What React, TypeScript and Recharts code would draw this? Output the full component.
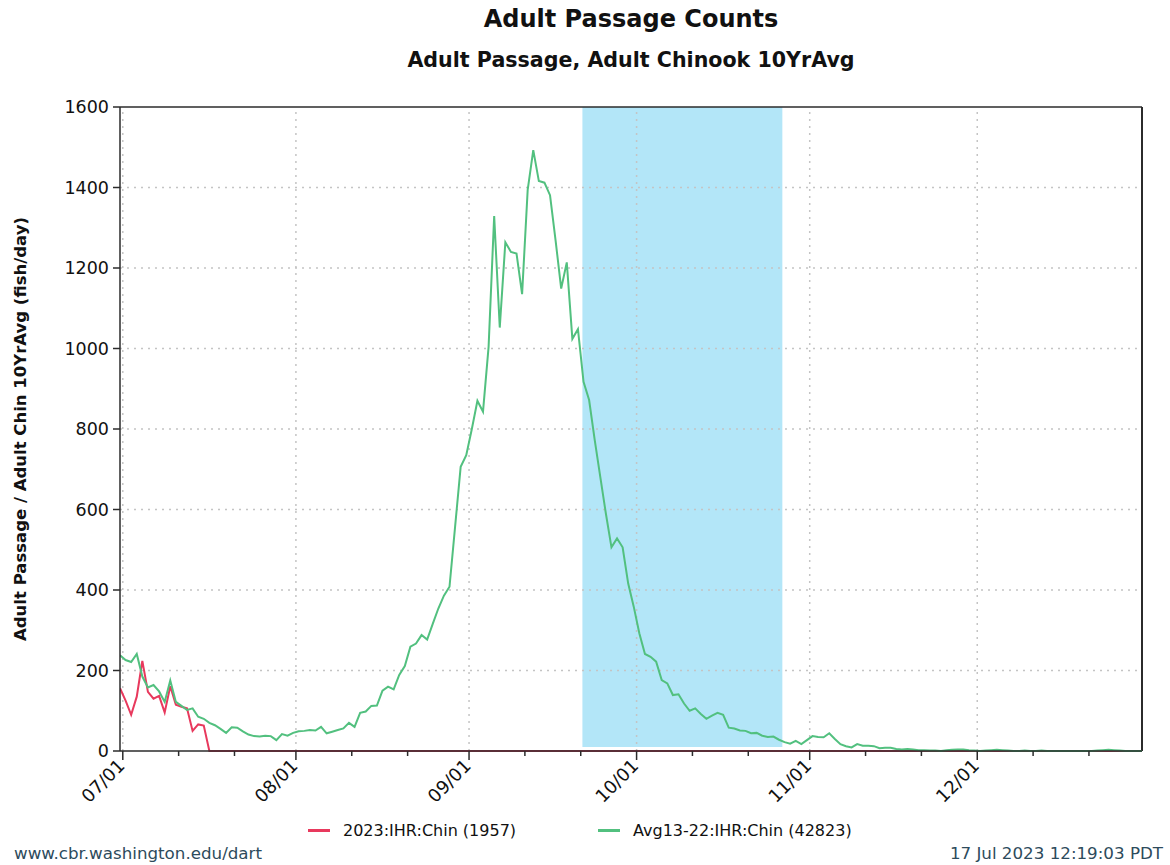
import { LineChart, Line, XAxis, YAxis, ReferenceArea, ReferenceLine } from 'recharts';

// daily values, index 0 = 07/01 ... 183 = 12/31
const CURRENT_2023 = [
  156, 125, 90, 135, 224, 147, 130, 137, 96, 161, 115, 110, 106, 50, 66, 63, 0, 0, 0, 0,
  0, 0, 0, 0, 0, 0, 0, 0, 0, 0, 0, 0, 0, 0, 0, 0, 0, 0, 0, 0,
  0, 0, 0, 0, 0, 0, 0, 0, 0, 0, 0, 0, 0, 0, 0, 0, 0, 0, 0, 0,
  0, 0, 0, 0, 0, 0, 0, 0, 0, 0, 0, 0, 0, 0, 0, 0, 0, 0, 0, 0,
  0, 0, 0, 0, 0, 0, 0, 0, 0, 0, 0, 0, 0, 0, 0, 0, 0, 0, 0, 0,
  0, 0, 0, 0, 0, 0, 0, 0, 0, 0, 0, 0, 0, 0, 0, 0, 0, 0, 0, 0,
  0, 0, 0, 0, 0, 0, 0, 0, 0, 0, 0, 0, 0, 0, 0, 0, 0, 0, 0, 0,
  0, 0, 0, 0, 0, 0, 0, 0, 0, 0, 0, 0, 0, 0, 0, 0, 0, 0, 0, 0,
  0, 0, 0, 0, 0, 0, 0, 0, 0, 0, 0, 0, 0, 0, 0, 0, 0, 0, 0, 0,
  0, 0, 0, 0,
];

const AVG_13_22 = [
  238, 226, 221, 241, 185, 158, 164, 148, 122, 175, 122, 112, 102, 106, 85, 80, 70, 64, 55, 45,
  59, 58, 49, 41, 37, 36, 38, 37, 27, 42, 38, 45, 49, 50, 52, 51, 60, 44, 48, 52,
  56, 70, 60, 95, 98, 112, 113, 150, 160, 153, 189, 211, 259, 267, 288, 277, 316, 354, 386, 408,
  557, 706, 735, 800, 870, 843, 1004, 1329, 1052, 1264, 1240, 1236, 1135, 1394, 1493, 1416, 1412, 1381, 1268, 1149,
  1214, 1024, 1048, 917, 872, 773, 681, 590, 506, 528, 506, 416, 358, 292, 241, 234, 222, 176, 168, 139,
  141, 118, 100, 106, 92, 80, 88, 95, 90, 58, 56, 51, 50, 44, 45, 38, 35, 36, 28, 22,
  18, 25, 17, 27, 37, 35, 34, 44, 30, 17, 12, 9, 17, 13, 13, 12, 7, 8, 8, 5,
  4, 5, 4, 2, 2, 1, 1, 0, 2, 3, 4, 4, 2, 1, 0, 1, 2, 3, 2, 1,
  0, 0, 1, 0, 0, 1, 0, 0, 0, 0, 0, 0, 0, 0, 0, 1, 2, 3, 2, 1,
  0, 0, 0, 0,
];

const SERIES_NAMES = ['2023:IHR:Chin (1957)', 'Avg13-22:IHR:Chin (42823)'];

// ticks sit half a day right of the daily points
const MONTH_TICK_DAYS = [0, 31, 62, 92, 123, 153];
const MONTH_TICK_LABELS = ['07/01', '08/01', '09/01', '10/01', '11/01', '12/01'];
const MINOR_TICK_DAYS = [10, 20, 41, 51, 72, 82, 102, 112, 133, 143, 163, 173];
const Y_TICKS = [0, 200, 400, 600, 800, 1000, 1200, 1400, 1600];
const HIGHLIGHT = [82.8, 118.6];

const COLORS = {
  red: '#e8395d',
  green: '#52c07f',
  band: '#b3e6f8',
  grid: '#c4c4c4',
  axis: '#2b2b2b',
  text: '#111',
  footer: '#2d4b5c',
};

const FONT = "'DejaVu Sans', sans-serif";
const X_MAX = AVG_13_22.length - 1;

const data = AVG_13_22.map((avg, k) => ({ k, cur: CURRENT_2023[k], avg }));
const monthTicks = MONTH_TICK_DAYS.map((d) => d + 0.5);
const allTicks = [...monthTicks, ...MINOR_TICK_DAYS.map((d) => d + 0.5)].sort((a, b) => a - b);

function DateTick(props: any) {
  const { x, y, payload } = props;
  const idx = monthTicks.indexOf(payload.value);
  const major = idx >= 0;
  const tx = x + 3;
  const ty = y + 16;
  return (
    <g>
      <line x1={x} y1={y} x2={x} y2={y + (major ? 9 : 5)} stroke={COLORS.axis} strokeWidth={1.5} />
      {major && (
        <text
          x={tx}
          y={ty}
          textAnchor="end"
          transform={`rotate(-45 ${tx} ${ty})`}
          fontSize={18}
          fontFamily={FONT}
          fill={COLORS.text}
        >
          {MONTH_TICK_LABELS[idx]}
        </text>
      )}
    </g>
  );
}

export default function App() {
  return (
    <div style={{ position: 'absolute', left: 0, top: 0, width: 1170, height: 865, background: '#fff', fontFamily: FONT }}>
      <div style={{ position: 'absolute', left: 120, width: 1022, top: 4, textAlign: 'center', fontSize: 24, fontWeight: 'bold', lineHeight: '30px', color: COLORS.text }}>
        Adult Passage Counts
      </div>
      <div style={{ position: 'absolute', left: 120, width: 1022, top: 47, textAlign: 'center', fontSize: 20.6, fontWeight: 'bold', lineHeight: '26px', color: COLORS.text }}>
        Adult Passage, Adult Chinook 10YrAvg
      </div>
      <div style={{ position: 'absolute', left: 21 - 300, top: 429 - 11, width: 600, textAlign: 'center', fontSize: 16.5, fontWeight: 'bold', lineHeight: '22px', transform: 'rotate(-90deg)', color: COLORS.text }}>
        Adult Passage / Adult Chin 10YrAvg (fish/day)
      </div>

      <LineChart width={1170} height={865} data={data} margin={{ top: 107, right: 28, bottom: 44, left: 0 }}>
        <XAxis
          dataKey="k"
          type="number"
          domain={[0, X_MAX]}
          ticks={allTicks}
          interval={0}
          tick={<DateTick />}
          tickSize={0}
          tickMargin={0}
          tickLine={false}
          height={70}
          axisLine={{ stroke: COLORS.axis, strokeWidth: 1.5 }}
          allowDataOverflow
        />
        <YAxis
          type="number"
          domain={[0, 1600]}
          ticks={Y_TICKS}
          interval={0}
          width={120}
          tickSize={7}
          tickMargin={4}
          tick={{ fontSize: 17.5, fontFamily: FONT, fill: COLORS.text }}
          tickLine={{ stroke: COLORS.axis, strokeWidth: 1.5 }}
          axisLine={{ stroke: COLORS.axis, strokeWidth: 1.5 }}
        />
        <ReferenceArea x1={HIGHLIGHT[0]} x2={HIGHLIGHT[1]} y1={10} y2={1600} fill={COLORS.band} fillOpacity={1} stroke="none" />
        {Y_TICKS.slice(1, -1).map((v) => (
          <ReferenceLine key={'h' + v} y={v} stroke={COLORS.grid} strokeDasharray="2 5" strokeWidth={1.5} />
        ))}
        {monthTicks.map((v) => (
          <ReferenceLine key={'v' + v} x={v} stroke={COLORS.grid} strokeDasharray="2 5" strokeWidth={1.5} />
        ))}
        <ReferenceLine y={1600} stroke={COLORS.axis} strokeWidth={1.5} />
        <ReferenceLine x={X_MAX} stroke={COLORS.axis} strokeWidth={2} />
        <Line dataKey="cur" name={SERIES_NAMES[0]} stroke={COLORS.red} strokeWidth={2} dot={false} isAnimationActive={false} />
        <Line dataKey="avg" name={SERIES_NAMES[1]} stroke={COLORS.green} strokeWidth={2} dot={false} isAnimationActive={false} />
      </LineChart>

      <div style={{ position: 'absolute', top: 818, left: 308, height: 24, display: 'flex', alignItems: 'center', fontSize: 16, color: COLORS.text }}>
        <span style={{ display: 'inline-block', width: 22, height: 3, background: COLORS.red, marginRight: 13 }} />
        {SERIES_NAMES[0]}
      </div>
      <div style={{ position: 'absolute', top: 818, left: 598, height: 24, display: 'flex', alignItems: 'center', fontSize: 16, color: COLORS.text }}>
        <span style={{ display: 'inline-block', width: 22, height: 3, background: COLORS.green, marginRight: 13 }} />
        {SERIES_NAMES[1]}
      </div>

      <div style={{ position: 'absolute', left: 14, top: 842, fontSize: 16.7, lineHeight: '22px', color: COLORS.footer }}>
        www.cbr.washington.edu/dart
      </div>
      <div style={{ position: 'absolute', right: 7, top: 842, fontSize: 16.7, lineHeight: '22px', color: COLORS.footer }}>
        17 Jul 2023 12:19:03 PDT
      </div>
    </div>
  );
}
